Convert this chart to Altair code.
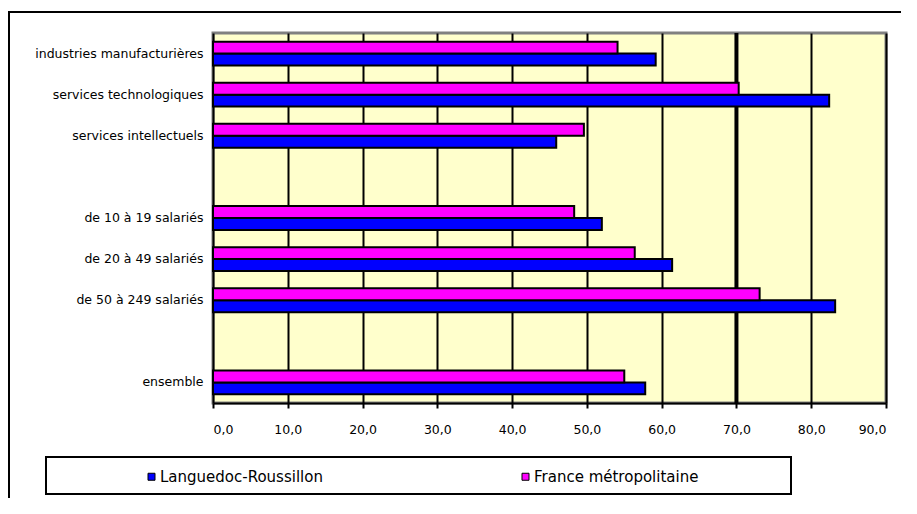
import altair as alt
import pandas as pd

# Axis order (blank entries are spacer rows)
axis_order = ["industries manufacturières", "services technologiques", "services intellectuels", " ",
              "de 10 à 19 salariés", "de 20 à 49 salariés", "de 50 à 249 salariés", "  ", "ensemble"]
categories = ["industries manufacturières", "services technologiques", "services intellectuels",
              "de 10 à 19 salariés", "de 20 à 49 salariés", "de 50 à 249 salariés", "ensemble"]
languedoc = [59.2, 82.4, 45.9, 52.0, 61.4, 83.2, 57.8]
france = [54.1, 70.3, 49.6, 48.3, 56.4, 73.1, 55.0]
series = ["Languedoc-Roussillon", "France métropolitaine"]
series_colors = ["#0000FF", "#FF00FF"]
x_ticks = [0, 10, 20, 30, 40, 50, 60, 70, 80, 90]

rows = []
for c, a, b in zip(categories, languedoc, france):
    rows.append({"cat": c, "serie": series[0], "val": a})
    rows.append({"cat": c, "serie": series[1], "val": b})
df = pd.DataFrame(rows)

FONT = "DejaVu Sans"

xscale = alt.Scale(domain=[0, 90], nice=False, zero=True)

bars = alt.Chart(df).mark_bar(stroke="black", strokeWidth=2, cornerRadius=0).encode(
    x=alt.X("val:Q", scale=xscale,
            axis=alt.Axis(values=x_ticks, title=None, grid=True, gridColor="black", gridWidth=2,
                          gridOpacity=1, domainColor="black", domainWidth=2, tickColor="black",
                          tickWidth=2, tickSize=5, labelFont=FONT, labelFontSize=12.5,
                          labelColor="black", labelPadding=15,
                          labelExpr="replace(format(datum.value, '.1f'), '.', ',')")),
    y=alt.Y("cat:N", sort=axis_order,
            scale=alt.Scale(domain=axis_order, paddingInner=0.42, paddingOuter=0.21),
            axis=alt.Axis(title=None, ticks=False, domain=False, labelFont=FONT, labelFontSize=12.5,
                          labelColor="black", labelPadding=10, labelLimit=300)),
    yOffset=alt.YOffset("serie:N", sort=[series[1], series[0]],
                        scale=alt.Scale(paddingInner=0, paddingOuter=0)),
    color=alt.Color("serie:N", scale=alt.Scale(domain=series, range=series_colors),
                    legend=alt.Legend(title=None, orient="none", legendX=-69, legendY=436,
                                      direction="horizontal", columns=2, columnPadding=195,
                                      symbolType="square", symbolSize=49, symbolStrokeColor="black",
                                      symbolStrokeWidth=1, symbolOpacity=1, labelOffset=1,
                                      labelFont=FONT, labelFontSize=15, labelColor="black",
                                      labelLimit=500, padding=0)),
)

rule70 = alt.Chart(pd.DataFrame({"v": [70]})).mark_rule(color="black", strokeWidth=4).encode(
    x=alt.X("v:Q", scale=xscale)
)

deco = pd.DataFrame({"a": [1]})
legend_box = alt.Chart(deco).mark_rect(fillOpacity=0, stroke="black", strokeWidth=2).encode(
    x=alt.value(-167), x2=alt.value(578), y=alt.value(424), y2=alt.value(461)
)
frame = alt.Chart(deco).mark_rect(fillOpacity=0, stroke="black", strokeWidth=2).encode(
    x=alt.value(-204), x2=alt.value(760), y=alt.value(-21), y2=alt.value(560)
)

chart = alt.layer(rule70, bars, legend_box, frame).properties(
    width=673, height=370,
    autosize=alt.AutoSizeParams(type="none"),
    padding={"left": 205, "top": 25, "right": 15, "bottom": 95},
).configure(
    background="white"
).configure_view(
    fill="#FFFFCC", stroke="#808080", strokeWidth=3
)

chart.save("out.html", embed_options={"renderer": "svg", "actions": False})
